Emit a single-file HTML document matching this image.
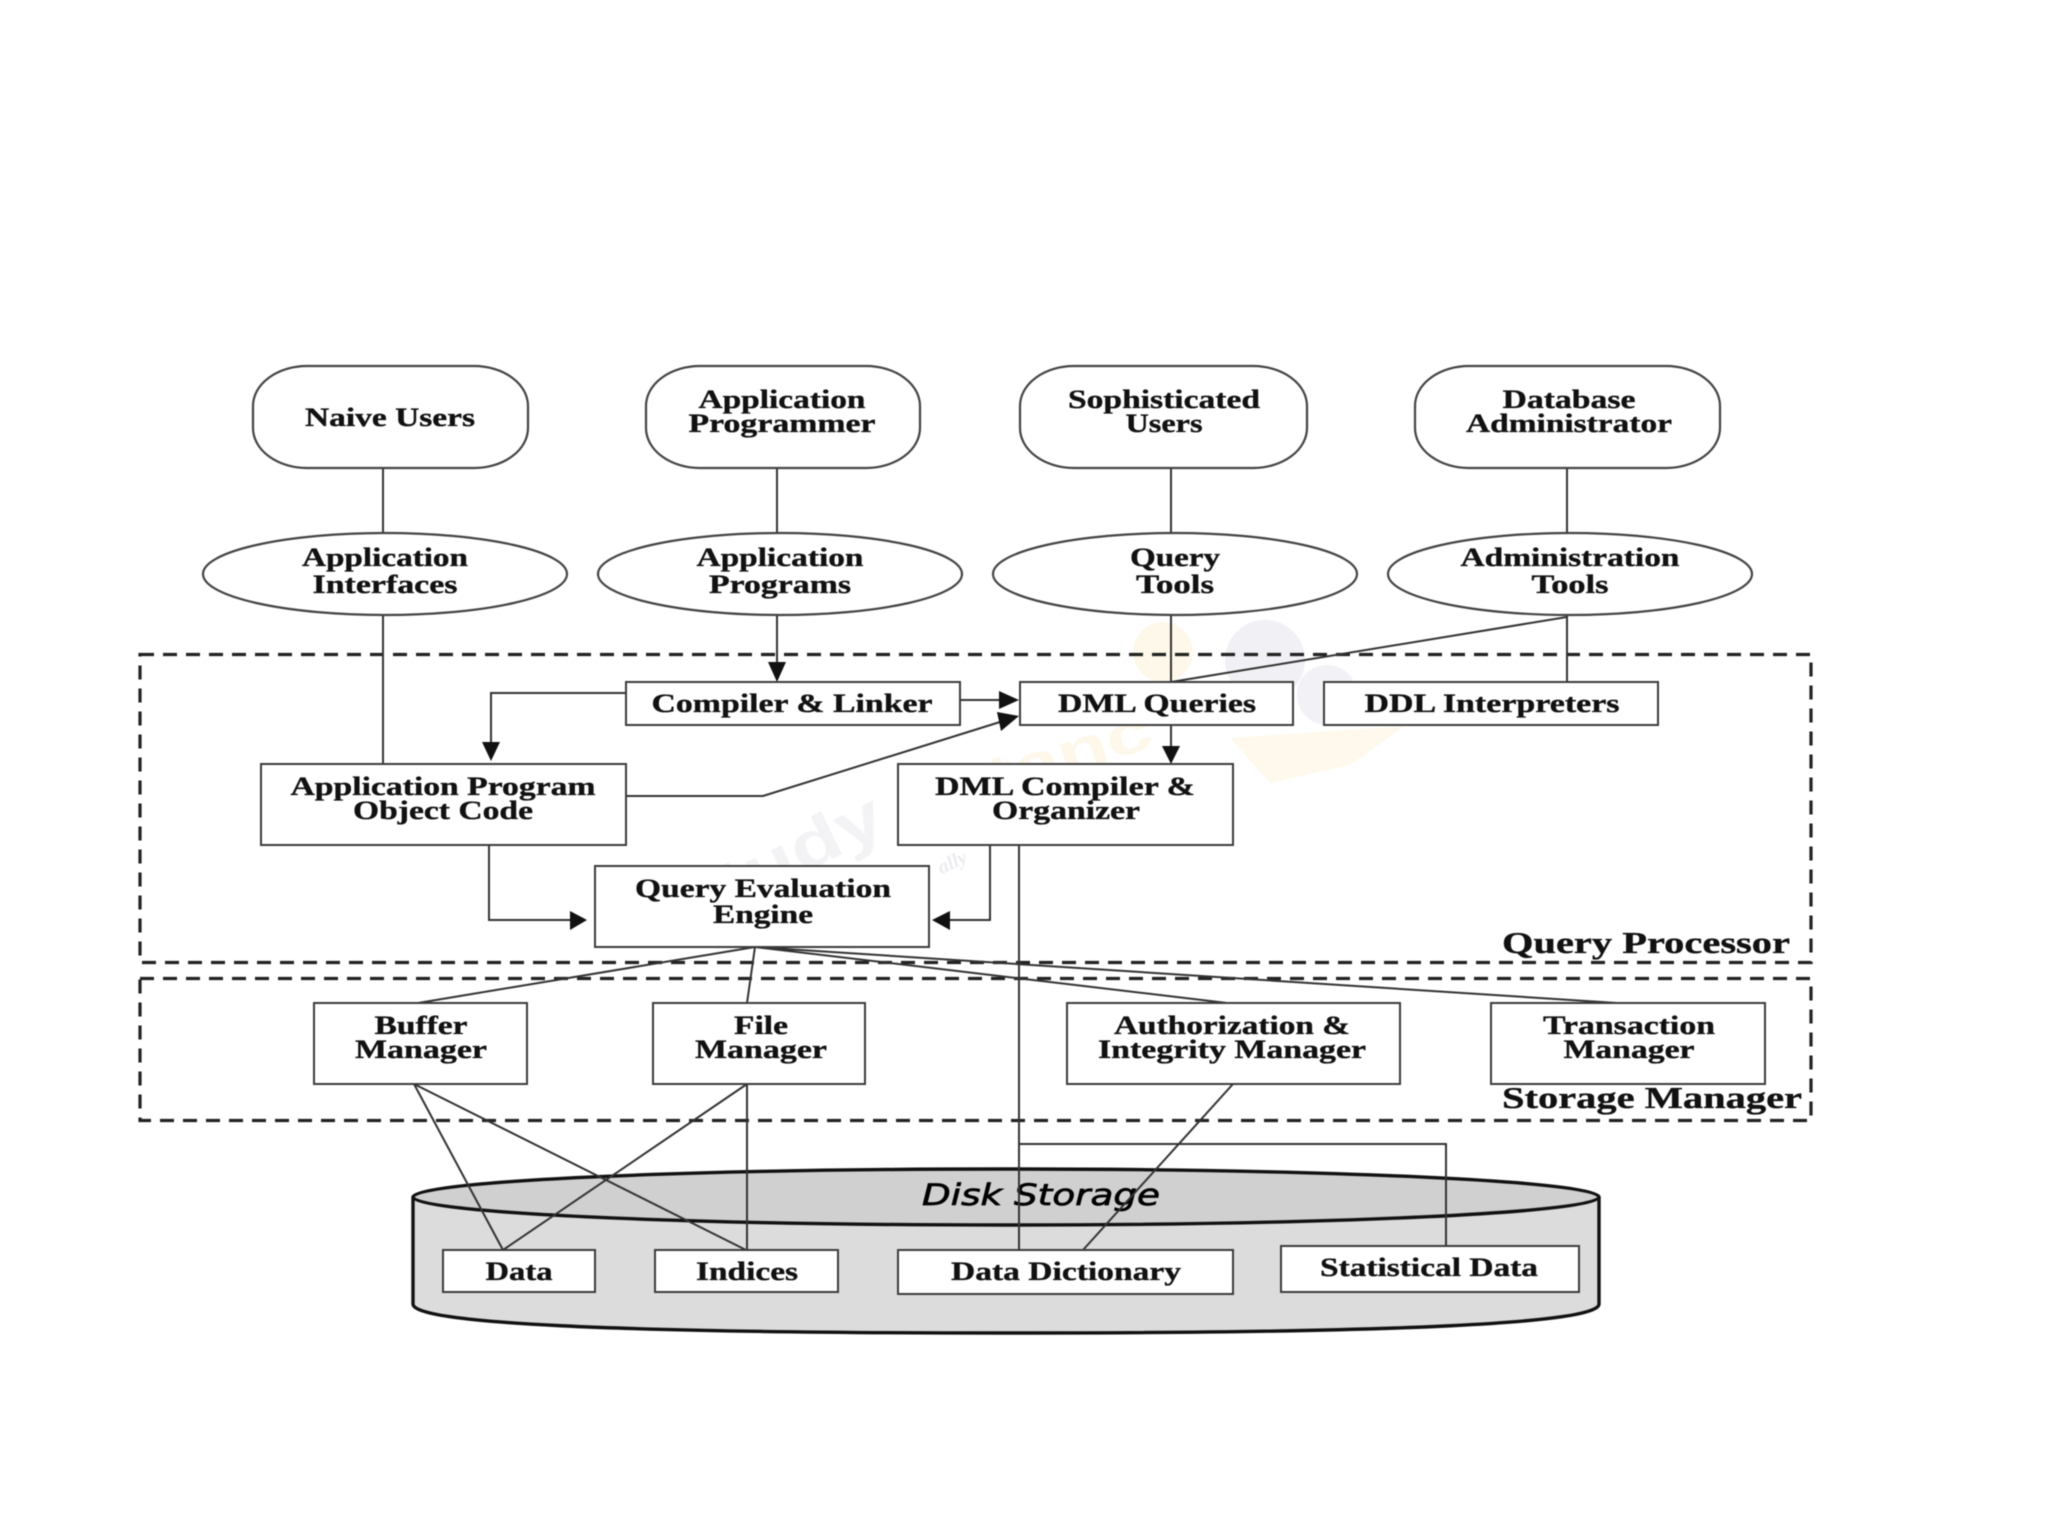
<!DOCTYPE html>
<html><head><meta charset="utf-8"><style>
html,body{margin:0;padding:0;background:#fff;width:2048px;height:1536px;overflow:hidden}
svg{display:block;filter:blur(0.55px)}
text{font-family:"Liberation Serif",serif;font-weight:bold;font-size:26px;fill:#111;stroke:#111;stroke-width:.35;text-anchor:middle}
.s{fill:none;stroke:#333;stroke-width:2}
.t{fill:none;stroke:#444;stroke-width:2.2}
.b{fill:#fff;stroke:#3c3c3c;stroke-width:2}
.d{fill:none;stroke:#222;stroke-width:3.2;stroke-dasharray:14 9}
.a{fill:#111;stroke:none}
.big{font-size:31px;text-anchor:start}
.w{stroke:none}
</style></head><body>
<svg width="2048" height="1536" viewBox="0 0 2048 1536" xmlns="http://www.w3.org/2000/svg">
<rect width="2048" height="1536" fill="#fff"/>
<!-- watermark -->
<g>
<circle cx="1163" cy="652" r="30" fill="#fef8ea"/>
<circle cx="1265" cy="660" r="40" fill="#f0f0f5"/>
<circle cx="1327" cy="695" r="30" fill="#f2f2f6"/>
<path d="M1230 738 L1405 726 L1350 765 L1270 783 Z" fill="#fef9ec"/>
<text class="w" x="1075" y="772" transform="rotate(-18 1075 772)" style="font-family:'Liberation Sans',sans-serif;font-size:58px;fill:#fdf8ea" textLength="170" lengthAdjust="spacingAndGlyphs">tanc</text>
<text class="w" x="810" y="870" transform="rotate(-26 810 870)" style="font-family:'Liberation Sans',sans-serif;font-size:66px;fill:#f3f3f6" textLength="175" lengthAdjust="spacingAndGlyphs">tudy</text>
<text class="w" x="955" y="868" transform="rotate(-25 955 868)" style="font-size:20px;font-style:italic;fill:#ececf0">ally</text>
</g>

<!-- dashed groups -->
<rect class="d" x="140" y="654.5" width="1671" height="308"/>
<rect class="d" x="140" y="978.5" width="1671" height="142"/>

<!-- cylinder -->
<path d="M413 1197 V1304 Q413 1333 1006 1333 Q1599 1333 1599 1304 V1197" fill="#dcdcdc" stroke="#111" stroke-width="3.4"/>
<ellipse cx="1006" cy="1197" rx="593" ry="28" fill="#d0d0d0" stroke="#111" stroke-width="3.4"/>
<text x="1041" y="1205" style="font-family:'DejaVu Sans',sans-serif;font-style:italic;font-weight:normal;font-size:29px;fill:#000;stroke:#000;stroke-width:.7" textLength="238" lengthAdjust="spacingAndGlyphs">Disk  Storage</text>

<!-- connectors -->
<path class="s" d="M383 468V533 M777 468V533 M1171 468V533 M1567 468V533"/>
<path class="s" d="M383 614V764"/>
<path class="s" d="M777 614V668"/>
<path class="s" d="M1171 614V682"/>
<path class="s" d="M1567 614V682"/>
<path class="s" d="M1567 617L1171 682"/>
<path class="s" d="M625 693H491V745"/>
<path class="s" d="M960 700H1000"/>
<path class="s" d="M625 796H763L1000 722"/>
<path class="s" d="M1171 725V748"/>
<path class="s" d="M489 845V920H572"/>
<path class="s" d="M990 845V920H950"/>
<path class="s" d="M1019 845V1250"/>
<path class="s" d="M1019 1144H1446V1245"/>
<path class="s" d="M755 947L418 1003 M755 947L747 1003 M755 947L1227 1003 M755 947L1617 1003"/>
<path class="s" d="M414 1084L503 1250 M414 1084L746 1250 M747 1084L503 1250 M747 1084V1250"/>
<path class="s" d="M1233 1084L1083 1250"/>

<!-- arrowheads -->
<path class="a" d="M768 662H786L777 682Z"/>
<path class="a" d="M482 742H500L491 761Z"/>
<path class="a" d="M999 691L1019 700L999 709Z"/>
<path class="a" d="M997 712L1019 716L1001 731Z"/>
<path class="a" d="M1162 746H1180L1171 764Z"/>
<path class="a" d="M570 911L587 920L570 930Z"/>
<path class="a" d="M950 911L932 920L950 930Z"/>

<!-- terminators -->
<rect class="t" x="253" y="366" width="275" height="102" rx="54" ry="40" style="fill:#fff"/>
<rect class="t" x="646" y="366" width="274" height="102" rx="54" ry="40" style="fill:#fff"/>
<rect class="t" x="1020" y="366" width="287" height="102" rx="54" ry="40" style="fill:#fff"/>
<rect class="t" x="1415" y="366" width="305" height="102" rx="54" ry="40" style="fill:#fff"/>
<!-- ellipses -->
<ellipse class="t" cx="385" cy="574" rx="182" ry="41" style="fill:#fff"/>
<ellipse class="t" cx="780" cy="574" rx="182" ry="41" style="fill:#fff"/>
<ellipse class="t" cx="1175" cy="574" rx="182" ry="41" style="fill:#fff"/>
<ellipse class="t" cx="1570" cy="574" rx="182" ry="41" style="fill:#fff"/>
<!-- boxes -->
<rect class="b" x="626" y="682" width="334" height="43"/>
<rect class="b" x="1020" y="682" width="273" height="43"/>
<rect class="b" x="1324" y="682" width="334" height="43"/>
<rect class="b" x="261" y="764" width="365" height="81"/>
<rect class="b" x="898" y="764" width="335" height="81"/>
<rect class="b" x="595" y="866" width="334" height="81"/>
<rect class="b" x="314" y="1003" width="213" height="81"/>
<rect class="b" x="653" y="1003" width="212" height="81"/>
<rect class="b" x="1067" y="1003" width="333" height="81"/>
<rect class="b" x="1491" y="1003" width="274" height="81"/>
<rect class="b" x="443" y="1250" width="152" height="42"/>
<rect class="b" x="655" y="1250" width="183" height="42"/>
<rect class="b" x="898" y="1250" width="335" height="44"/>
<rect class="b" x="1281" y="1246" width="298" height="46"/>

<!-- labels -->
<text x="390" y="426" textLength="170" lengthAdjust="spacingAndGlyphs">Naive Users</text>
<text x="782" y="408" textLength="167" lengthAdjust="spacingAndGlyphs">Application</text>
<text x="782" y="432" textLength="187" lengthAdjust="spacingAndGlyphs">Programmer</text>
<text x="1164" y="408" textLength="192" lengthAdjust="spacingAndGlyphs">Sophisticated</text>
<text x="1164" y="432" textLength="77" lengthAdjust="spacingAndGlyphs">Users</text>
<text x="1569" y="408" textLength="133" lengthAdjust="spacingAndGlyphs">Database</text>
<text x="1569" y="432" textLength="206" lengthAdjust="spacingAndGlyphs">Administrator</text>

<text x="385" y="566" textLength="166" lengthAdjust="spacingAndGlyphs">Application</text>
<text x="385" y="593" textLength="145" lengthAdjust="spacingAndGlyphs">Interfaces</text>
<text x="780" y="566" textLength="167" lengthAdjust="spacingAndGlyphs">Application</text>
<text x="780" y="593" textLength="142" lengthAdjust="spacingAndGlyphs">Programs</text>
<text x="1175" y="566" textLength="90" lengthAdjust="spacingAndGlyphs">Query</text>
<text x="1175" y="593" textLength="78" lengthAdjust="spacingAndGlyphs">Tools</text>
<text x="1570" y="566" textLength="219" lengthAdjust="spacingAndGlyphs">Administration</text>
<text x="1570" y="593" textLength="77" lengthAdjust="spacingAndGlyphs">Tools</text>

<text x="792" y="712" textLength="281" lengthAdjust="spacingAndGlyphs">Compiler &amp; Linker</text>
<text x="1157" y="712" textLength="198" lengthAdjust="spacingAndGlyphs">DML Queries</text>
<text x="1492" y="712" textLength="255" lengthAdjust="spacingAndGlyphs">DDL Interpreters</text>

<text x="443" y="795" textLength="305" lengthAdjust="spacingAndGlyphs">Application Program</text>
<text x="443" y="819" textLength="180" lengthAdjust="spacingAndGlyphs">Object Code</text>
<text x="1065" y="795" textLength="260" lengthAdjust="spacingAndGlyphs">DML Compiler &amp;</text>
<text x="1066" y="819" textLength="148" lengthAdjust="spacingAndGlyphs">Organizer</text>
<text x="763" y="897" textLength="256" lengthAdjust="spacingAndGlyphs">Query Evaluation</text>
<text x="763" y="923" textLength="100" lengthAdjust="spacingAndGlyphs">Engine</text>

<text x="421" y="1034" textLength="93" lengthAdjust="spacingAndGlyphs">Buffer</text>
<text x="421" y="1058" textLength="132" lengthAdjust="spacingAndGlyphs">Manager</text>
<text x="761" y="1034" textLength="54" lengthAdjust="spacingAndGlyphs">File</text>
<text x="761" y="1058" textLength="132" lengthAdjust="spacingAndGlyphs">Manager</text>
<text x="1232" y="1034" textLength="236" lengthAdjust="spacingAndGlyphs">Authorization &amp;</text>
<text x="1232" y="1058" textLength="268" lengthAdjust="spacingAndGlyphs">Integrity Manager</text>
<text x="1629" y="1034" textLength="172" lengthAdjust="spacingAndGlyphs">Transaction</text>
<text x="1629" y="1058" textLength="131" lengthAdjust="spacingAndGlyphs">Manager</text>

<text class="big" x="1502" y="953" textLength="288" lengthAdjust="spacingAndGlyphs">Query Processor</text>
<text class="big" x="1502" y="1108" textLength="300" lengthAdjust="spacingAndGlyphs">Storage Manager</text>

<text x="519" y="1280" textLength="67" lengthAdjust="spacingAndGlyphs">Data</text>
<text x="747" y="1280" textLength="102" lengthAdjust="spacingAndGlyphs">Indices</text>
<text x="1066" y="1280" textLength="230" lengthAdjust="spacingAndGlyphs">Data Dictionary</text>
<text x="1429" y="1276" textLength="218" lengthAdjust="spacingAndGlyphs">Statistical Data</text>
</svg>
</body></html>
